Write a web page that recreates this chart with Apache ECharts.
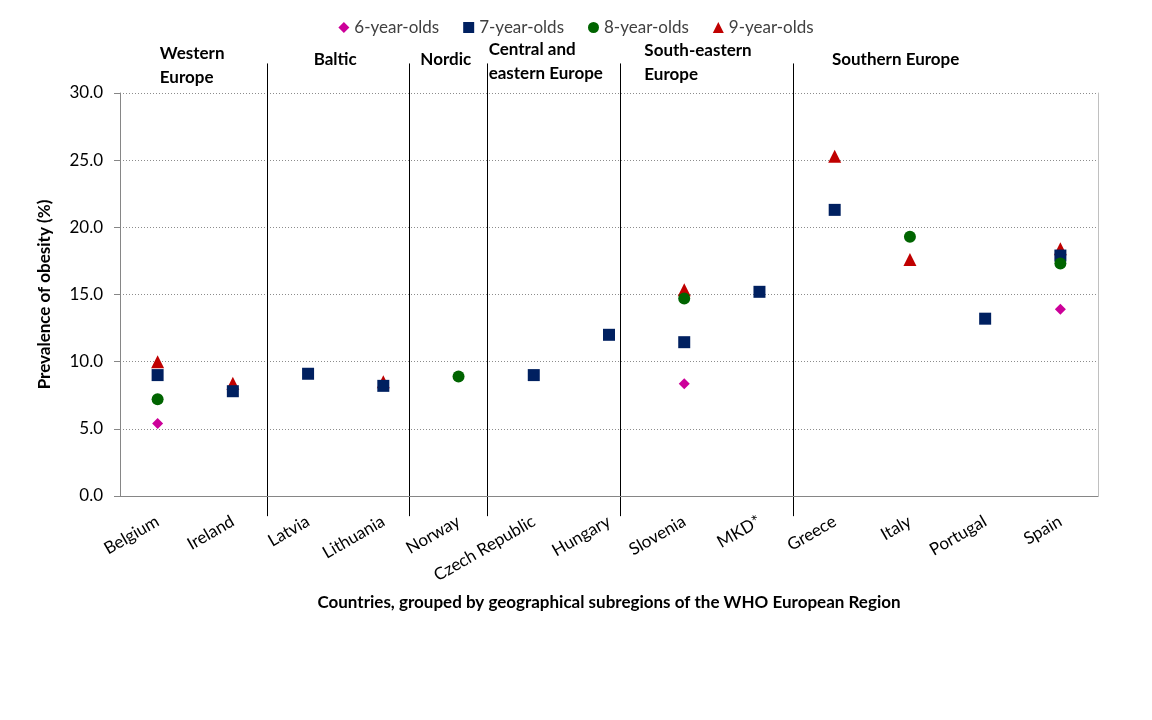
<html>
<head>
    <meta charset="utf-8">
    <script src="https://cdn.jsdelivr.net/npm/echarts@6/dist/echarts.min.js"></script>
    <style>
        html, body { margin: 0; padding: 0; background: #fff; }
        #main { width: 1152px; height: 720px; }
    </style>
</head>
<body>
<div id="main"></div>
<script>
    // Countries on the x axis
    var countries = ['Belgium', 'Ireland', 'Latvia', 'Lithuania', 'Norway', 'Czech Republic',
        'Hungary', 'Slovenia', 'MKD*', 'Greece', 'Italy', 'Portugal', 'Spain'];

    // Prevalence of obesity (%), null where no survey
    var age6 = [5.4, null, null, null, null, null, null, 8.35, null, null, null, null, 13.9];
    var age7 = [9.0, 7.8, 9.1, 8.2, null, 9.0, 12.0, 11.45, 15.2, 21.3, null, 13.2, 17.9];
    var age8 = [7.2, null, null, null, 8.9, null, null, 14.7, null, null, 19.3, null, 17.3];
    var age9 = [10.0, 8.4, null, 8.5, null, null, null, 15.35, null, 25.3, 17.6, null, 18.4];

    var yTicks = [0, 5, 10, 15, 20, 25, 30];

    // Subregion headings
    var regions = ['Western\nEurope', 'Baltic', 'Nordic', 'Central and\neastern Europe',
        'South-eastern\nEurope', 'Southern Europe'];

    var font = 'Lato, "Open Sans", sans-serif';
    var fs = 17;

    // where dividers and headings sit, in category units of the hidden axis
    var dividerAt = [1.954, 3.84, 4.88, 6.65, 8.95];
    var headingAt = [
        {x: 0.53, y: 66, align: 'left'},
        {x: 2.86, y: 60, align: 'center'},
        {x: 4.33, y: 60, align: 'center'},
        {x: 4.90, y: 62, align: 'left'},
        {x: 6.97, y: 63, align: 'left'},
        {x: 10.31, y: 60, align: 'center'}
    ];

    var chart = echarts.init(document.getElementById('main'));

    function series(name, data, symbol, size, color, z) {
        return {
            name: name,
            type: 'scatter',
            data: data,
            symbol: symbol,
            symbolSize: size,
            z: z,
            itemStyle: {color: color, opacity: 1},
            emphasis: {disabled: true}
        };
    }

    var option = {
        animation: false,
        textStyle: {fontFamily: font},
        legend: {
            top: 14,
            left: 'center',
            itemGap: 24,
            itemWidth: 11,
            itemHeight: 11,
            textStyle: {fontSize: fs, color: '#404040', fontFamily: font},
            data: [
                {name: '6-year-olds', icon: 'diamond'},
                {name: '7-year-olds', icon: 'rect'},
                {name: '8-year-olds', icon: 'circle'},
                {name: '9-year-olds', icon: 'triangle'}
            ]
        },
        grid: {left: 120, right: 54, top: 93, bottom: 224},
        xAxis: [{
            type: 'category',
            data: countries,
            name: 'Countries, grouped by geographical subregions of the WHO European Region',
            nameLocation: 'middle',
            nameGap: 98,
            nameTextStyle: {fontSize: fs, fontWeight: 'bold', color: '#000', fontFamily: font},
            axisLine: {lineStyle: {color: '#868686'}},
            axisTick: {alignWithLabel: true, length: 6, lineStyle: {color: '#868686'}},
            axisLabel: {rotate: 30, fontSize: fs, color: '#000', margin: 24, fontFamily: font},
            splitLine: {show: false}
        }, {
            type: 'value',
            min: 0,
            max: 13,
            show: false
        }],
        yAxis: [{
            type: 'value',
            min: yTicks[0],
            max: yTicks[yTicks.length - 1],
            interval: 5,
            name: 'Prevalence of obesity (%)',
            nameLocation: 'middle',
            nameGap: 67,
            nameTextStyle: {fontSize: fs, fontWeight: 'bold', color: '#000', fontFamily: font},
            axisLine: {show: true, lineStyle: {color: '#868686'}},
            axisTick: {show: true, length: 6, lineStyle: {color: '#868686'}},
            axisLabel: {
                fontSize: fs, color: '#000', margin: 17, fontFamily: font,
                formatter: function (v) { return v.toFixed(1); }
            },
            splitLine: {lineStyle: {color: '#8c8c8c', type: [1, 2], width: 1}}
        }, {
            type: 'value',
            min: 0,
            max: 30,
            position: 'right',
            axisLine: {show: true, lineStyle: {color: '#c0c0c0'}},
            axisTick: {show: false},
            axisLabel: {show: false},
            splitLine: {show: false}
        }],
        series: [
            series('9-year-olds', age9, 'triangle', 13, '#c00000', 2),
            series('6-year-olds', age6, 'diamond', 11, '#cc0099', 3),
            series('7-year-olds', age7, 'rect', 12, '#002060', 4),
            series('8-year-olds', age8, 'circle', 12, '#006400', 5)
        ]
    };

    chart.setOption(option);

    // dividers and subregion headings placed through the hidden category-unit axis
    var yTop = chart.convertToPixel({yAxisIndex: 0}, 32.2);
    var yBottom = chart.convertToPixel({yAxisIndex: 0}, -1.5);
    var graphics = [];
    dividerAt.forEach(function (d) {
        var x = Math.round(chart.convertToPixel({xAxisIndex: 1}, d)) + 0.5;
        graphics.push({
            type: 'line',
            shape: {x1: x, y1: yTop, x2: x, y2: yBottom},
            style: {stroke: '#000', lineWidth: 1}
        });
    });
    regions.forEach(function (r, i) {
        graphics.push({
            type: 'text',
            x: chart.convertToPixel({xAxisIndex: 1}, headingAt[i].x),
            y: headingAt[i].y,
            style: {
                text: r,
                font: 'bold ' + fs + 'px ' + font,
                fill: '#000',
                align: headingAt[i].align,
                verticalAlign: 'middle',
                lineHeight: 24
            }
        });
    });
    chart.setOption({graphic: graphics});
</script>
</body>
</html>
